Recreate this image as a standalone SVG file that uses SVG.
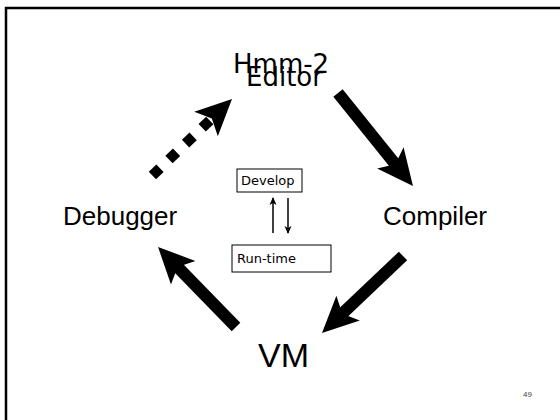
<svg xmlns="http://www.w3.org/2000/svg" width="560" height="420" viewBox="0 0 560 420">
  <style>
    .big { font-family: "Liberation Sans", Arial, sans-serif; font-size: 26px; fill: #000; }
    .vm { font-size: 34px; }
    .dv { font-family: "DejaVu Sans", sans-serif; fill: #000; }
    .box { fill: #fff; stroke: #000; stroke-width: 1; }
    .thick { fill: none; stroke: #000; stroke-width: 12; marker-end: url(#head); }
    .dots { fill: none; stroke: #000; stroke-width: 10.5; stroke-dasharray: 10.5 12.5; marker-end: url(#head); }
    .thin { fill: none; stroke: #000; stroke-width: 1.5; marker-end: url(#small); }
  </style>
  <defs>
    <marker id="head" markerUnits="userSpaceOnUse" markerWidth="40" markerHeight="40" viewBox="0 -20 40 40" refX="16" refY="0" orient="auto" overflow="visible">
      <path d="M36,0 L0,-17 L8,0 L0,17 Z" fill="#000"/>
    </marker>
    <marker id="small" markerUnits="userSpaceOnUse" markerWidth="10" markerHeight="10" viewBox="0 -5 10 10" refX="7" refY="0" orient="auto" overflow="visible">
      <path d="M8,0 L0,-3.5 L2,0 L0,3.5 Z" fill="#000"/>
    </marker>
  </defs>
  <rect width="560" height="420" fill="#fff"/>
  <path d="M6,420 L6,8 L560,8" fill="none" stroke="#000" stroke-width="2.5"/>

  <g id="connectors">
    <line class="thick" x1="338" y1="93" x2="400.4" y2="170.4"/>
    <line class="thick" x1="403" y1="256" x2="336.5" y2="319.2"/>
    <line class="thick" x1="236" y1="327" x2="172" y2="261.3"/>
    <line class="dots" x1="152.4" y1="175.5" x2="217.6" y2="112.9"/>
    <line class="thin" x1="273" y1="233" x2="273" y2="198"/>
    <line class="thin" x1="288" y1="198" x2="288" y2="233"/>
  </g>

  <g id="editor">
    <text class="dv" x="233" y="73" font-size="26">Hmm-2</text>
    <text class="dv" x="246" y="86" font-size="26">Editor</text>
  </g>
  <g id="compiler">
    <text class="big" x="383" y="225">Compiler</text>
  </g>
  <g id="vm">
    <text class="big vm" x="258" y="367">VM</text>
  </g>
  <g id="debugger">
    <text class="big" x="63" y="225">Debugger</text>
  </g>
  <g id="develop">
    <rect class="box" x="237" y="169" width="65" height="23"/>
    <text class="dv" x="241" y="185" font-size="13">Develop</text>
  </g>
  <g id="runtime">
    <rect class="box" x="232" y="245" width="99" height="27"/>
    <text class="dv" x="237" y="263" font-size="13">Run-time</text>
  </g>
  <g id="page">
    <text x="523" y="397" font-family="Liberation Sans, Arial, sans-serif" font-size="8" fill="#444">49</text>
  </g>
</svg>
